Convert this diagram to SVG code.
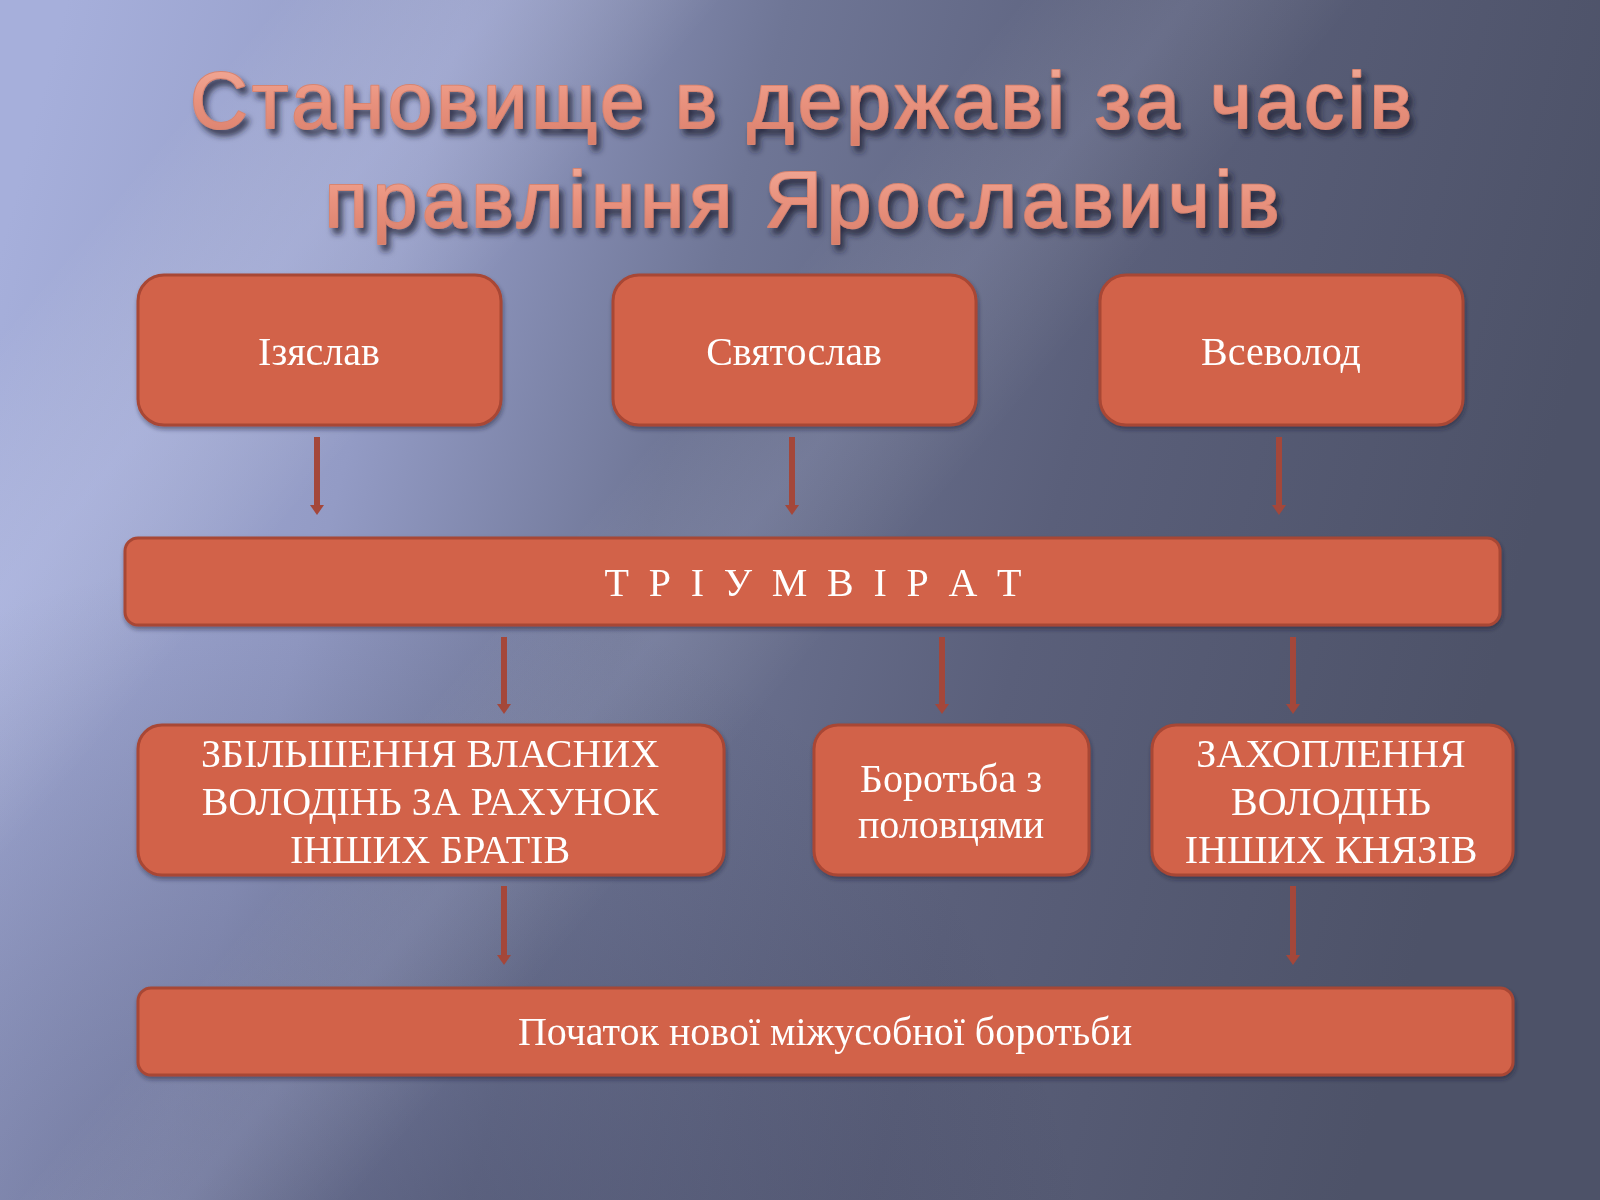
<svg xmlns="http://www.w3.org/2000/svg" width="1600" height="1200" viewBox="0 0 1600 1200">
  <defs>
    <linearGradient id="bg" gradientUnits="userSpaceOnUse" x1="0" y1="250" x2="1500" y2="650">
      <stop offset="0" stop-color="#A6AFDB"/>
      <stop offset="0.25" stop-color="#939BC5"/>
      <stop offset="0.45" stop-color="#6F7696"/>
      <stop offset="0.7" stop-color="#5A5F7A"/>
      <stop offset="1" stop-color="#4D5268"/>
    </linearGradient>
    <radialGradient id="shadeBottom" gradientUnits="userSpaceOnUse" cx="300" cy="1350" r="800">
      <stop offset="0" stop-color="#262A42" stop-opacity="0.4"/>
      <stop offset="1" stop-color="#262A42" stop-opacity="0"/>
    </radialGradient>
    <linearGradient id="band" x1="0" y1="0" x2="1" y2="0">
      <stop offset="0" stop-color="#FFFFFF" stop-opacity="0"/>
      <stop offset="0.5" stop-color="#DDE2FF" stop-opacity="0.2"/>
      <stop offset="1" stop-color="#FFFFFF" stop-opacity="0"/>
    </linearGradient>
    <linearGradient id="bandSoft" x1="0" y1="0" x2="1" y2="0">
      <stop offset="0" stop-color="#FFFFFF" stop-opacity="0"/>
      <stop offset="0.5" stop-color="#DDE2FF" stop-opacity="0.11"/>
      <stop offset="1" stop-color="#FFFFFF" stop-opacity="0"/>
    </linearGradient>
    <linearGradient id="titleFill" x1="0" y1="0" x2="0" y2="1">
      <stop offset="0" stop-color="#F3AE9C"/>
      <stop offset="0.5" stop-color="#E9927E"/>
      <stop offset="1" stop-color="#D97F6B"/>
    </linearGradient>
    <filter id="titleShadow" x="-10%" y="-30%" width="120%" height="170%">
      <feGaussianBlur in="SourceAlpha" stdDeviation="3"/>
      <feOffset dx="4" dy="6" result="b"/>
      <feFlood flood-color="#1C1E30" flood-opacity="0.8"/>
      <feComposite in2="b" operator="in"/>
      <feMerge><feMergeNode/><feMergeNode in="SourceGraphic"/></feMerge>
    </filter>
    <filter id="boxShadow" x="-5%" y="-10%" width="110%" height="130%">
      <feGaussianBlur in="SourceAlpha" stdDeviation="2"/>
      <feOffset dx="1" dy="3" result="b"/>
      <feFlood flood-color="#1C1E30" flood-opacity="0.45"/>
      <feComposite in2="b" operator="in"/>
      <feMerge><feMergeNode/><feMergeNode in="SourceGraphic"/></feMerge>
    </filter>
    <marker id="head" markerUnits="userSpaceOnUse" viewBox="0 0 10 14" markerWidth="10" markerHeight="14" refX="0" refY="7" orient="auto">
      <path d="M0,0 L10,7 L0,14 z" fill="#A4473A"/>
    </marker>
    <style>
      .title { font-family: "Liberation Sans", Arial, sans-serif; font-size: 80px; fill: url(#titleFill); stroke: #D88470; stroke-width: 2; stroke-linejoin: round; paint-order: stroke; text-anchor: middle; }
      .box { fill: #D26248; stroke: #A84634; stroke-width: 3; }
      .lbl { font-family: "Liberation Serif", "Times New Roman", serif; font-size: 40px; fill: #FFFFFF; text-anchor: middle; }
      .conn { stroke: #A4473A; stroke-width: 6; fill: none; marker-end: url(#head); }
    </style>
  </defs>

  <g id="background">
    <rect x="0" y="0" width="1600" height="1200" fill="url(#bg)"/>
    <rect x="0" y="0" width="1600" height="1200" fill="url(#shadeBottom)"/>
    <rect x="-170" y="-2000" width="340" height="4000" fill="url(#band)" transform="translate(300,240) rotate(40)"/>
    <rect x="-130" y="-2000" width="260" height="4000" fill="url(#bandSoft)" transform="translate(720,560) rotate(40)"/>
  </g>

  <g id="title" filter="url(#titleShadow)">
    <text class="title" x="801" y="128" textLength="1222" lengthAdjust="spacing">Становище в державі за часів</text>
    <text class="title" x="802" y="227" textLength="955" lengthAdjust="spacing">правління Ярославичів</text>
  </g>

  <g id="connectors">
    <line class="conn" x1="317" y1="437" x2="317" y2="505"/>
    <line class="conn" x1="792" y1="437" x2="792" y2="505"/>
    <line class="conn" x1="1279" y1="437" x2="1279" y2="505"/>
    <line class="conn" x1="504" y1="637" x2="504" y2="704"/>
    <line class="conn" x1="942" y1="637" x2="942" y2="704"/>
    <line class="conn" x1="1293" y1="637" x2="1293" y2="704"/>
    <line class="conn" x1="504" y1="886" x2="504" y2="955"/>
    <line class="conn" x1="1293" y1="886" x2="1293" y2="955"/>
  </g>

  <g id="node-izyaslav" filter="url(#boxShadow)">
    <rect class="box" x="138" y="275" width="363" height="150" rx="26"/>
    <text class="lbl" x="319" y="365">Ізяслав</text>
  </g>
  <g id="node-sviatoslav" filter="url(#boxShadow)">
    <rect class="box" x="613" y="275" width="363" height="150" rx="26"/>
    <text class="lbl" x="794" y="365">Святослав</text>
  </g>
  <g id="node-vsevolod" filter="url(#boxShadow)">
    <rect class="box" x="1100" y="275" width="363" height="150" rx="26"/>
    <text class="lbl" x="1281" y="365">Всеволод</text>
  </g>

  <g id="node-triumvirate" filter="url(#boxShadow)">
    <rect class="box" x="125" y="538" width="1375" height="87" rx="13"/>
    <text class="lbl" x="813" y="596" textLength="417" lengthAdjust="spacing">Т Р І У М В І Р А Т</text>
  </g>

  <g id="node-own-lands" filter="url(#boxShadow)">
    <rect class="box" x="138" y="725" width="586" height="150" rx="24"/>
    <text class="lbl" x="430" y="767">ЗБІЛЬШЕННЯ ВЛАСНИХ</text>
    <text class="lbl" x="430" y="815">ВОЛОДІНЬ ЗА РАХУНОК</text>
    <text class="lbl" x="430" y="863">ІНШИХ БРАТІВ</text>
  </g>
  <g id="node-polovtsi" filter="url(#boxShadow)">
    <rect class="box" x="814" y="725" width="275" height="150" rx="24"/>
    <text class="lbl" x="951" y="792">Боротьба з</text>
    <text class="lbl" x="951" y="838">половцями</text>
  </g>
  <g id="node-seizure" filter="url(#boxShadow)">
    <rect class="box" x="1152" y="725" width="361" height="150" rx="24"/>
    <text class="lbl" x="1331" y="767">ЗАХОПЛЕННЯ</text>
    <text class="lbl" x="1331" y="815">ВОЛОДІНЬ</text>
    <text class="lbl" x="1331" y="863">ІНШИХ КНЯЗІВ</text>
  </g>

  <g id="node-strife" filter="url(#boxShadow)">
    <rect class="box" x="138" y="988" width="1375" height="87" rx="13"/>
    <text class="lbl" x="825" y="1045">Початок нової міжусобної боротьби</text>
  </g>
</svg>
